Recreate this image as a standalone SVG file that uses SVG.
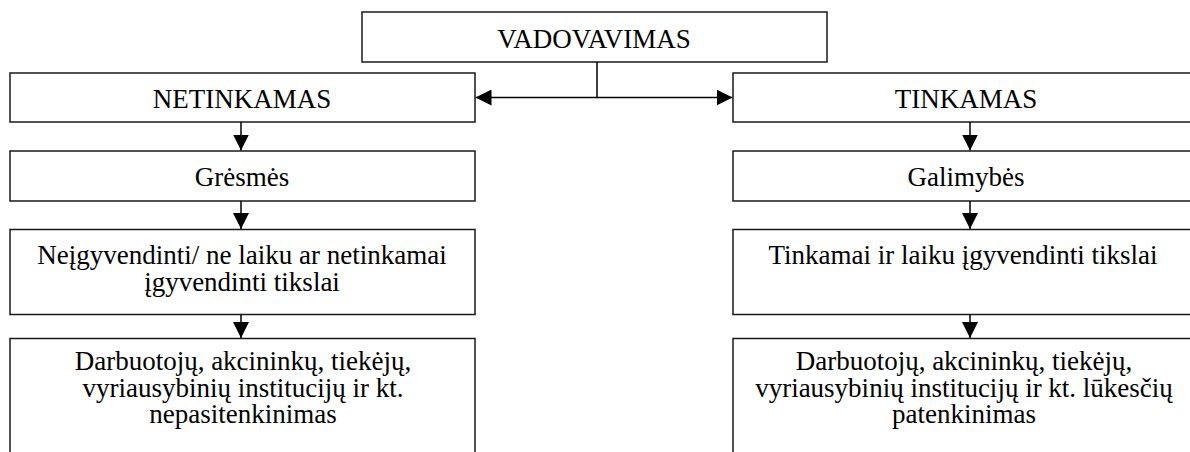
<svg xmlns="http://www.w3.org/2000/svg" width="1190" height="452" viewBox="0 0 1190 452">
<style>
.box{fill:#fff;stroke:#1a1a1a;stroke-width:1.5}
.t{font-family:'Liberation Serif',Tinos,'Times New Roman',Times,'DejaVu Serif',serif;font-size:27px;fill:#000;text-anchor:middle}
.c{fill:none;stroke:#000;stroke-width:1.5}
</style>
<defs>
<marker id="ah" markerUnits="userSpaceOnUse" markerWidth="16" markerHeight="16" viewBox="0 0 15 15" refX="15" refY="7.5" orient="auto">
<path d="M0,0 L15,7.5 L0,15 z" fill="#000"/>
</marker>
</defs>
<rect width="1190" height="452" fill="#fff"/>
<g id="vadovavimas"><rect class="box" x="362" y="12" width="465" height="50"/><text class="t" x="594" y="47.5">VADOVAVIMAS</text></g>
<g id="netinkamas"><rect class="box" x="10" y="73" width="465" height="49"/><text class="t" x="242" y="107.5">NETINKAMAS</text></g>
<g id="tinkamas"><rect class="box" x="733" y="73" width="470" height="49"/><text class="t" x="966" y="107.5">TINKAMAS</text></g>
<g id="gresmes"><rect class="box" x="10" y="151" width="465" height="50"/><text class="t" x="242" y="186">Grėsmės</text></g>
<g id="galimybes"><rect class="box" x="733" y="151" width="470" height="50"/><text class="t" x="966" y="186">Galimybės</text></g>
<g id="neigyvendinti"><rect class="box" x="10" y="229.5" width="465" height="85"/><text class="t" x="242" y="264">Neįgyvendinti/ ne laiku ar netinkamai</text><text class="t" x="242" y="291">įgyvendinti tikslai</text></g>
<g id="tinkamai"><rect class="box" x="733" y="229.5" width="470" height="85"/><text class="t" x="963" y="264">Tinkamai ir laiku įgyvendinti tikslai</text></g>
<g id="nepasitenkinimas"><rect class="box" x="10" y="338.5" width="465" height="130"/><text class="t" x="243" y="370">Darbuotojų, akcininkų, tiekėjų,</text><text class="t" x="243" y="396.5">vyriausybinių institucijų ir kt.</text><text class="t" x="243" y="423">nepasitenkinimas</text></g>
<g id="patenkinimas"><rect class="box" x="733" y="338.5" width="470" height="130"/><text class="t" x="964" y="370">Darbuotojų, akcininkų, tiekėjų,</text><text class="t" x="964" y="396.5">vyriausybinių institucijų ir kt. lūkesčių</text><text class="t" x="964" y="423">patenkinimas</text></g>
<g id="connectors">
<path class="c" d="M597,62 V97.5 H475.5" marker-end="url(#ah)"/>
<path class="c" d="M597,97.5 H732.5" marker-end="url(#ah)"/>
<path class="c" d="M241,122 V150.5" marker-end="url(#ah)"/>
<path class="c" d="M241,201 V229" marker-end="url(#ah)"/>
<path class="c" d="M241,314.5 V338" marker-end="url(#ah)"/>
<path class="c" d="M970,122 V150.5" marker-end="url(#ah)"/>
<path class="c" d="M970,201 V229" marker-end="url(#ah)"/>
<path class="c" d="M970,314.5 V338" marker-end="url(#ah)"/>
</g>
</svg>
